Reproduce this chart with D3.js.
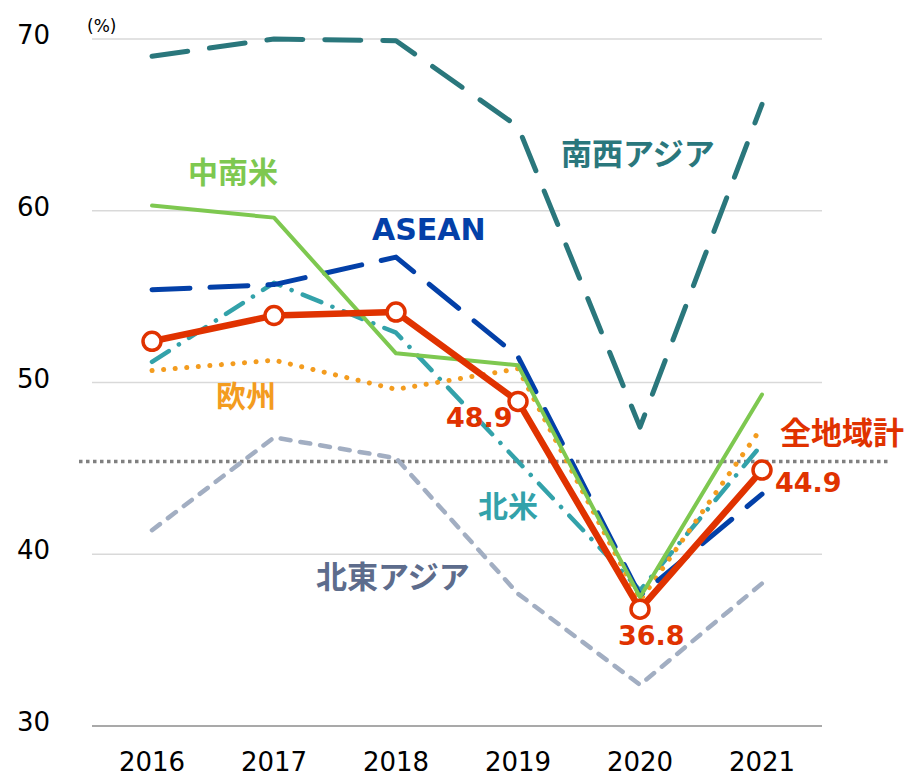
<!DOCTYPE html>
<html>
<head>
<meta charset="utf-8">
<script src="https://cdn.jsdelivr.net/npm/d3@7"></script>
<style>
  body { margin: 0; background: #fff; }
  text { font-family: "DejaVu Sans", "Noto Sans CJK JP", sans-serif; }
</style>
</head>
<body>
<svg class="chart"></svg>
<script>
// data
var years = [2016, 2017, 2018, 2019, 2020, 2021];
var yTicks = [30, 40, 50, 60, 70];
var swAsia   = [69.0, 70.0, 69.9, 64.9, 47.4, 66.2];
var asean    = [55.4, 55.7, 57.3, 51.5, 37.6, 43.5];
var latAm    = [60.3, 59.6, 51.7, 51.0, 37.5, 49.3];
var europe   = [50.7, 51.3, 49.6, 50.8, 37.3, 47.4];
var nAmerica = [51.2, 55.8, 52.9, 45.4, 37.9, 46.4];
var neAsia   = [41.4, 46.8, 45.6, 37.7, 32.4, 38.3];
var total    = [52.4, 53.9, 54.1, 48.9, 36.8, 44.9];
var avgLine  = 45.4;

var width = 908, height = 777;
var svg = d3.select(".chart").attr("width", width).attr("height", height);

var x = d3.scalePoint().domain(years).range([152, 762]);
var y = d3.scaleLinear().domain([30, 70]).range([726, 39]);
var x0 = 92, x1 = 822;

// gridlines
svg.selectAll(".grid")
    .data(yTicks.filter(function(d) { return d > 30; }))
    .enter().append("line")
    .attr("x1", x0).attr("x2", x1)
    .attr("y1", function(d) { return y(d); })
    .attr("y2", function(d) { return y(d); })
    .attr("stroke", "#d9d9d9").attr("stroke-width", 1.5);

// base axis
svg.append("line")
    .attr("x1", x0).attr("x2", x1)
    .attr("y1", y(30)).attr("y2", y(30))
    .attr("stroke", "#8c8c8c").attr("stroke-width", 1.5);

// y tick labels
svg.selectAll(".ytick")
    .data(yTicks)
    .enter().append("text")
    .attr("x", 50)
    .attr("y", function(d) { return y(d) + 5; })
    .attr("text-anchor", "end")
    .attr("font-size", 26)
    .attr("fill", "#000")
    .text(function(d) { return d; });

svg.append("text")
    .attr("x", 87).attr("y", 32)
    .attr("font-size", 17)
    .text("(%)");

// x labels
svg.selectAll(".xtick")
    .data(years)
    .enter().append("text")
    .attr("x", function(d) { return x(d); })
    .attr("y", 771)
    .attr("text-anchor", "middle")
    .attr("font-size", 26)
    .text(function(d) { return d; });

var line = d3.line()
    .x(function(d, i) { return x(years[i]); })
    .y(function(d) { return y(d); });

function drawSeries(vals, color, w, dash) {
    svg.append("path")
        .datum(vals)
        .attr("d", line)
        .attr("fill", "none")
        .attr("stroke", color)
        .attr("stroke-width", w)
        .attr("stroke-linecap", "round")
        .attr("stroke-linejoin", "round")
        .attr("stroke-dasharray", dash);
}

// average dotted line
svg.append("line")
    .attr("x1", 79).attr("x2", 888)
    .attr("y1", y(avgLine)).attr("y2", y(avgLine))
    .attr("stroke", "#808080").attr("stroke-width", 3.5)
    .attr("stroke-dasharray", "3.5,3.5");

drawSeries(neAsia, "#a2aec2", 4.5, "10,10");
drawSeries(swAsia, "#2a777c", 5, "36,22");
drawSeries(nAmerica, "#33a2aa", 4.5, "20,12,0.1,12");
drawSeries(europe, "#f39c1f", 5, "0.1,11.5");
drawSeries(asean, "#0340a8", 5, "38,20");
drawSeries(latAm, "#7ec850", 4, null);
drawSeries(total, "#e03200", 6.5, null);

svg.selectAll(".marker")
    .data(total)
    .enter().append("circle")
    .attr("cx", function(d, i) { return x(years[i]); })
    .attr("cy", function(d) { return y(d); })
    .attr("r", 9)
    .attr("fill", "#fff")
    .attr("stroke", "#e03200")
    .attr("stroke-width", 3.5);

// labels
var labels = [
    { t: "中南米", x: 188, y: 183, c: "#7ec850", s: 30 },
    { t: "ASEAN", x: 372, y: 240, c: "#0340a8", s: 30 },
    { t: "南西アジア", x: 561, y: 165, c: "#2a777c", s: 31 },
    { t: "欧州", x: 216, y: 407, c: "#f39c1f", s: 30 },
    { t: "北米", x: 478, y: 517, c: "#33a2aa", s: 30 },
    { t: "北東アジア", x: 316, y: 588, c: "#5d6c8c", s: 31 },
    { t: "全地域計", x: 780, y: 444, c: "#e03200", s: 31 },
    { t: "48.9", x: 446, y: 427, c: "#e03200", s: 27 },
    { t: "36.8", x: 618, y: 645, c: "#e03200", s: 27 },
    { t: "44.9", x: 775, y: 492, c: "#e03200", s: 27 }
];
svg.selectAll(".lbl")
    .data(labels)
    .enter().append("text")
    .attr("x", function(d) { return d.x; })
    .attr("y", function(d) { return d.y; })
    .attr("font-size", function(d) { return d.s; })
    .attr("font-weight", "bold")
    .attr("fill", function(d) { return d.c; })
    .text(function(d) { return d.t; });
</script>
</body>
</html>
